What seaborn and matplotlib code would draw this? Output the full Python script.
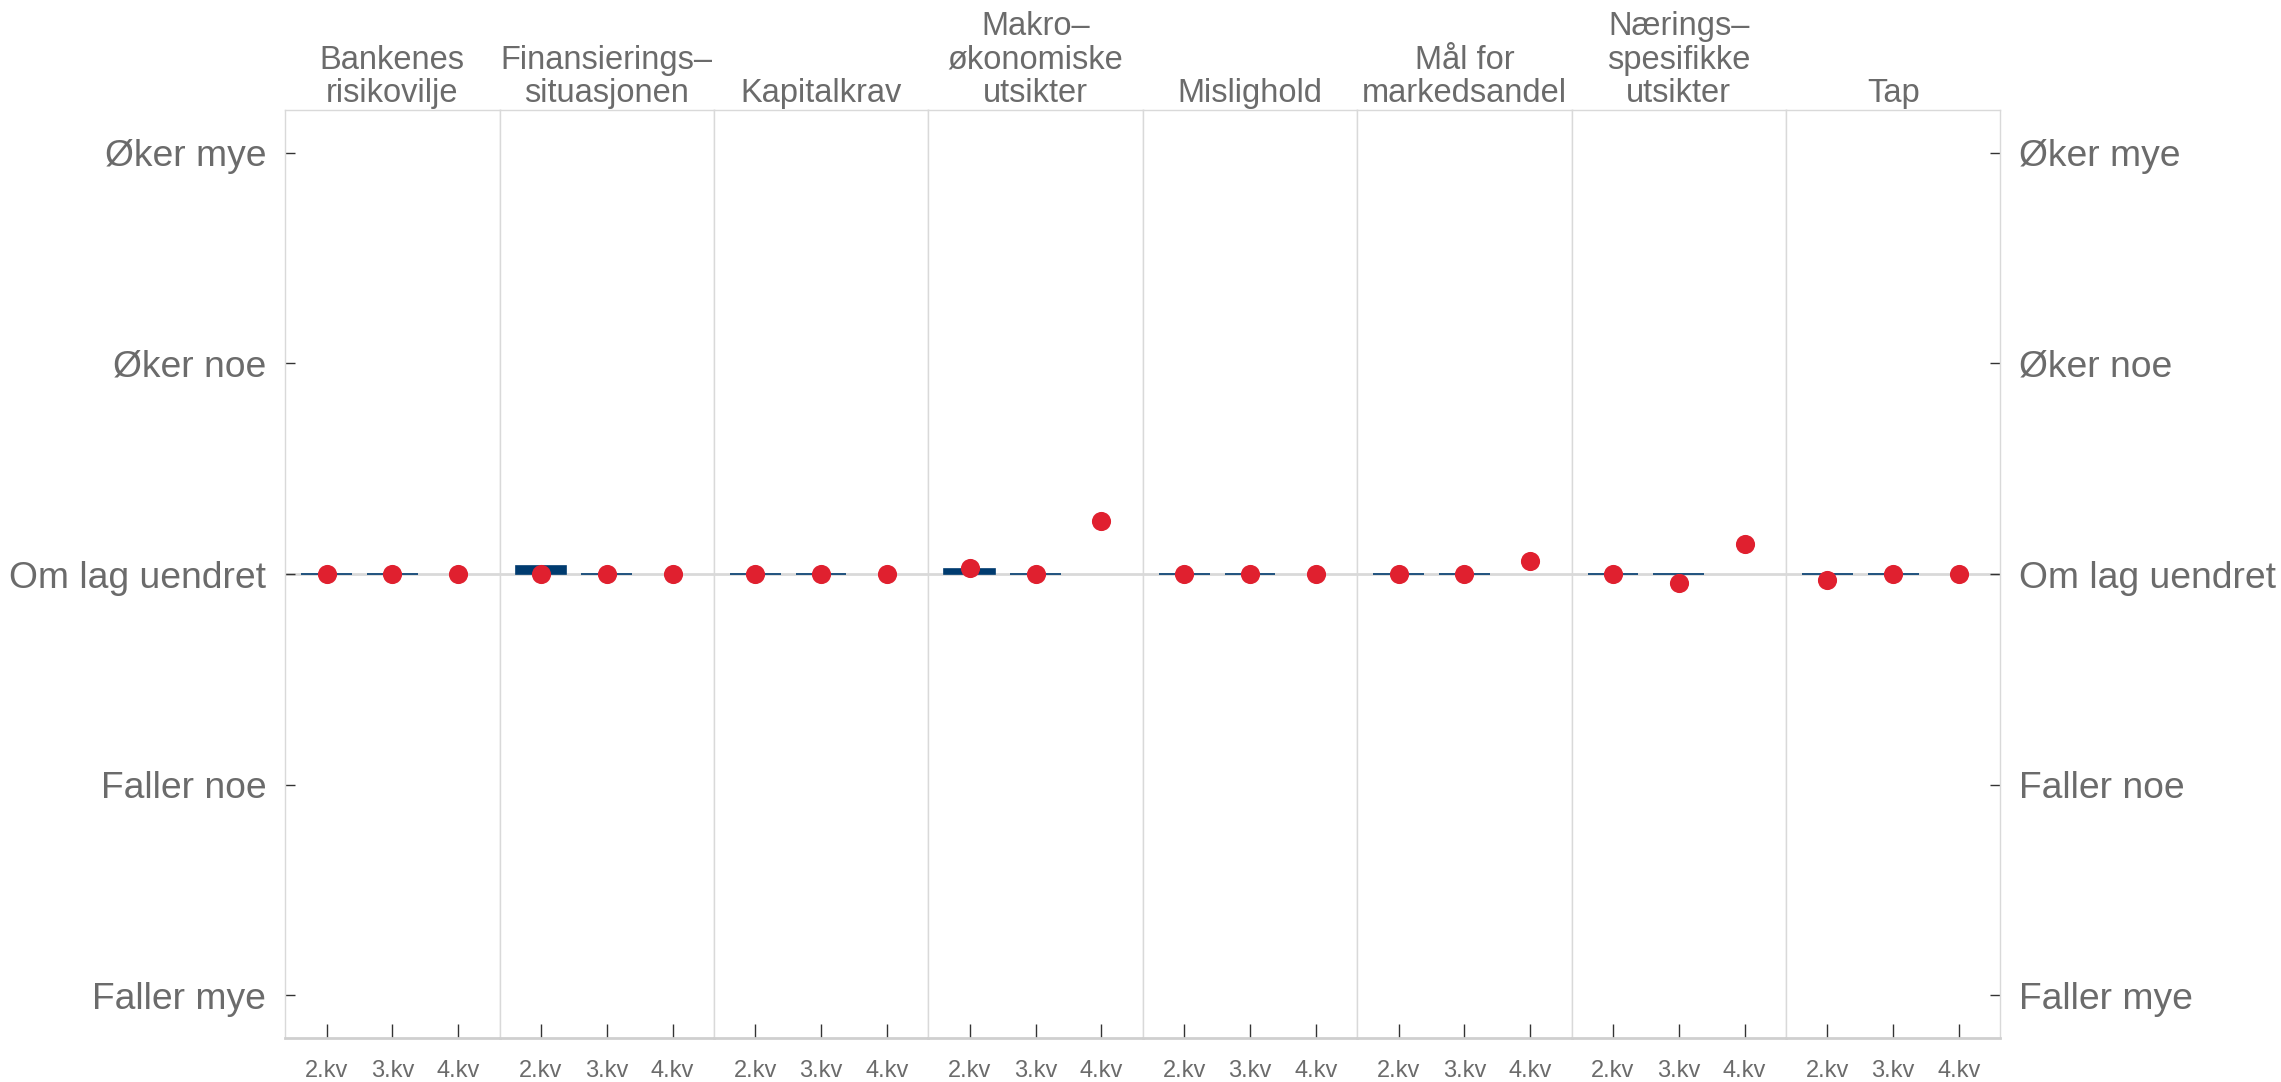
import pandas as pd
import matplotlib
matplotlib.use('Agg')
import matplotlib.pyplot as plt
import seaborn as sns
import numpy as np

# Data
categories = ['Bankenes\nrisikovilje', 'Finansierings–\nsituasjonen', 'Kapitalkrav',
              'Makro–\nøkonomiske\nutsikter', 'Mislighold', 'Mål for\nmarkedsandel',
              'Nærings–\nspesifikke\nutsikter', 'Tap']
quarters = ['2.kv', '3.kv', '4.kv']
# bars: realised change (no bar for 4.kv)
bar_values = [
    [0.0, 0.0, np.nan],
    [0.04, 0.0, np.nan],
    [0.0, 0.0, np.nan],
    [0.025, 0.0, np.nan],
    [0.0, 0.0, np.nan],
    [0.0, 0.0, np.nan],
    [0.0, 0.0, np.nan],
    [0.0, 0.0, np.nan],
]
# dots: expected change
dot_values = [
    [0.0, 0.0, 0.0],
    [0.0, 0.0, 0.0],
    [0.0, 0.0, 0.0],
    [0.03, 0.0, 0.25],
    [0.0, 0.0, 0.0],
    [0.0, 0.0, 0.06],
    [0.0, -0.045, 0.14],
    [-0.03, 0.0, 0.0],
]
ytick_values = [-2, -1, 0, 1, 2]
ytick_labels = ['Faller mye', 'Faller noe', 'Om lag uendret', 'Øker noe', 'Øker mye']

bar_color = '#003b6f'
dot_color = '#e0202f'
text_color = '#6b6b6b'
grid_color = '#d9d9d9'

sns.set_theme(style='white')
plt.rcParams['font.family'] = ['Liberation Sans', 'DejaVu Sans']

fig, axes = plt.subplots(1, len(categories), figsize=(22.81, 10.82), dpi=100, sharey=True)
fig.subplots_adjust(left=0.125, right=0.877, top=0.898, bottom=0.041, wspace=0)

for i, ax in enumerate(axes):
    df = pd.DataFrame({'kvartal': quarters, 'bar': bar_values[i], 'dot': dot_values[i]})
    ax.axhline(0, color=grid_color, lw=2, zorder=0)
    sns.barplot(data=df, x='kvartal', y='bar', order=quarters, color=bar_color,
                width=0.77, linewidth=1.2, edgecolor=bar_color, saturation=1, ax=ax, zorder=2)
    sns.scatterplot(data=df, x='kvartal', y='dot', color=dot_color, s=190,
                    linewidth=0, ax=ax, zorder=3)
    ax.set_xlim(-0.63, 2.63)
    ax.set_ylim(-2.2, 2.2)
    ax.set_xlabel('')
    ax.set_ylabel('')
    ax.set_title(categories[i], fontsize=23.5, color=text_color, pad=6, linespacing=1.1)
    for side in ['left', 'right', 'top']:
        ax.spines[side].set_color(grid_color)
        ax.spines[side].set_linewidth(1)
    ax.spines['bottom'].set_color('#cfcfcf')
    ax.spines['bottom'].set_linewidth(2)
    ax.tick_params(axis='x', direction='in', bottom=True, length=10, width=1, color='#333333',
                   labelsize=17, labelcolor=text_color, pad=16)
    ax.tick_params(axis='y', left=False, right=False, labelleft=False, labelright=False)

axes[0].set_yticks(ytick_values)
axes[0].set_yticklabels(ytick_labels)
axes[0].tick_params(axis='y', left=True, labelleft=True, direction='in', length=7, width=1,
                    color='#333333', labelsize=26.8, labelcolor=text_color, pad=13.5)
axes[-1].tick_params(axis='y', right=True, labelright=True, direction='in', length=7, width=1,
                     color='#333333', labelsize=26.8, labelcolor=text_color, pad=13.5)

plt.savefig('out.png', dpi=100)
